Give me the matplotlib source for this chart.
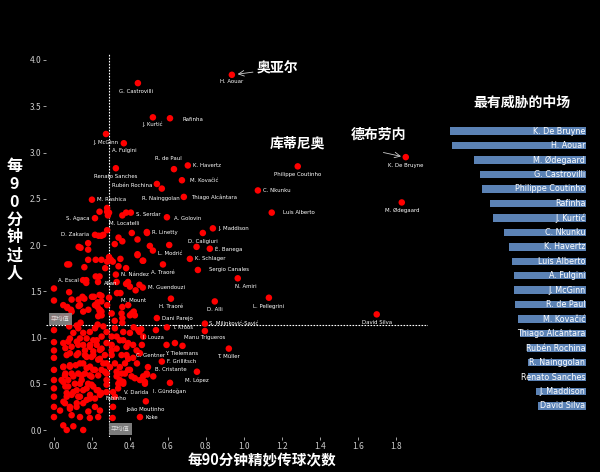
import matplotlib
matplotlib.use("Agg")
import matplotlib.pyplot as plt
from matplotlib import transforms

plt.rcParams['font.family'] = ['Noto Sans CJK SC', 'DejaVu Sans']

# labelled players: name, key passes / 90, dribbles / 90
names = ['G. Castrovilli', 'J. Kurtić', 'Rafinha', 'J. McGinn', 'A. Fulgini', 'R. de Paul',
         'K. Havertz', 'Renato Sanches', 'M. Kovačić', 'Rubén Rochina', 'R. Nainggolan',
         'Thiago Alcântara', 'M. Rashica', 'S. Agaca', 'S. Serdar', 'A. Golovin',
         'M. Locatelli', 'D. Zakaria', 'R. Linetty', 'D. Caligiuri', 'J. Maddison',
         'É. Banega', 'L. Modrić', 'K. Schlager', 'A. Traoré', 'Sergio Canales',
         'N. Nández', 'A. Escal', 'Allan', 'M. Guendouzi', 'N. Amiri', 'M. Mount',
         'H. Traoré', 'D. Alli', 'L. Pellegrini', 'David Silva', 'Dani Parejo',
         'S. Milinković-Savić', 'T. Kroos', 'I. Louza', 'Manu Trigueros', 'C. Gentner',
         'Y. Tielemans', 'F. Grillitsch', 'B. Cristante', 'M. López', 'T. Müller',
         'I. Gündoğan', 'V. Darida', 'Fabinho', 'João Moutinho', 'Koke', 'H. Aouar',
         'Philippe Coutinho', 'C. Nkunku', 'Luis Alberto', 'K. De Bruyne', 'M. Ødegaard']
key_passes = [0.442, 0.521, 0.611, 0.274, 0.368, 0.632, 0.705, 0.326, 0.674, 0.542, 0.568,
              0.684, 0.20, 0.216, 0.405, 0.595, 0.284, 0.216, 0.489, 0.784, 0.837,
              0.821, 0.521, 0.716, 0.574, 0.758, 0.326, 0.153, 0.232, 0.468, 0.968, 0.332,
              0.616, 0.847, 1.132, 1.70, 0.542, 0.795, 0.595, 0.463, 0.795, 0.437,
              0.593, 0.568, 0.495, 0.753, 0.921, 0.611, 0.311, 0.311, 0.484, 0.453, 0.937,
              1.284, 1.074, 1.147, 1.853, 1.832]
dribbles = [3.75, 3.38, 3.37, 3.20, 3.10, 2.82, 2.86, 2.83, 2.70, 2.66, 2.61,
            2.52, 2.49, 2.29, 2.35, 2.30, 2.32, 2.11, 2.14, 2.13, 2.18,
            1.96, 1.94, 1.85, 1.79, 1.73, 1.68, 1.62, 1.60, 1.54, 1.64, 1.48,
            1.42, 1.39, 1.43, 1.25, 1.21, 1.15, 1.11, 0.92, 1.07, 0.72,
            0.92, 0.74, 0.68, 0.63, 0.88, 0.51, 0.41, 0.25, 0.31, 0.14, 3.84,
            2.85, 2.59, 2.35, 2.95, 2.46]

# the other midfielders (unlabelled)
other_kp = [0.0, 0.0, 0.0, 0.0, 0.0, 0.0, 0.0, 0.0, 0.0, 0.0, 0.0, 0.0, 0.0, 0.044,
            0.24, 0.28, 0.29, 0.28, 0.36, 0.38, 0.28, 0.235, 0.25, 0.26, 0.18, 0.14, 0.18,
            0.32, 0.34, 0.36, 0.41, 0.44, 0.49, 0.35, 0.29, 0.30, 0.28, 0.31, 0.25, 0.22,
            0.18, 0.16, 0.08, 0.27, 0.34, 0.38, 0.44, 0.22, 0.24, 0.17, 0.17, 0.33, 0.38,
            0.40, 0.43, 0.45, 0.39, 0.08, 0.15, 0.21, 0.25, 0.25, 0.23, 0.29, 0.35, 0.13,
            0.16, 0.20, 0.24, 0.36, 0.07, 0.09, 0.07, 0.13, 0.23, 0.24, 0.25, 0.28, 0.40,
            0.41, 0.42, 0.14, 0.12, 0.08, 0.23, 0.26, 0.36, 0.36, 0.42, 0.32, 0.505, 0.607,
            0.467, 0.44, 0.47, 0.751, 0.13, 0.07,
            0.049, 0.093, 0.137, 0.216, 0.242, 0.251, 0.233, 0.093, 0.075, 0.154, 0.181,
            0.426, 0.356, 0.391, 0.304,
            0.102, 0.128, 0.154, 0.189, 0.216, 0.251, 0.277, 0.321, 0.365, 0.40, 0.444,
            0.084, 0.137, 0.172, 0.207, 0.304, 0.347,
            0.049, 0.093, 0.128, 0.163, 0.189, 0.225, 0.251, 0.277, 0.304, 0.33, 0.382,
            0.417, 0.453, 0.067, 0.119, 0.172, 0.207, 0.242, 0.356, 0.391,
            0.049, 0.084, 0.137, 0.172, 0.207, 0.189, 0.233, 0.268, 0.295, 0.33, 0.374,
            0.40, 0.426, 0.058, 0.102, 0.146, 0.277, 0.347,
            0.049, 0.075, 0.102, 0.137, 0.172, 0.198, 0.225, 0.251, 0.277, 0.338, 0.365,
            0.067, 0.128, 0.189, 0.321,
            0.058, 0.084, 0.119, 0.154, 0.181, 0.216, 0.242, 0.093, 0.137, 0.189, 0.233,
            0.032, 0.049, 0.102, 0.154, 0.067,
            0.339, 0.365, 0.321, 0.347, 0.374, 0.391, 0.356, 0.33, 0.409, 0.382, 0.417,
            0.453, 0.479, 0.488, 0.523, 0.309, 0.304, 0.33, 0.365, 0.391, 0.435, 0.304,
            0.277, 0.277, 0.277, 0.45, 0.47, 0.637, 0.677, 0.491, 0.47, 0.479, 0.46, 0.537,
            0.05, 0.084, 0.12, 0.137, 0.172, 0.19, 0.154, 0.12, 0.093, 0.067, 0.06, 0.04,
            0.075, 0.11, 0.146, 0.18, 0.207, 0.233, 0.242, 0.216, 0.198, 0.163, 0.128,
            0.093, 0.06, 0.05, 0.084, 0.115, 0.154, 0.19, 0.216, 0.25, 0.26, 0.233, 0.198,
            0.163, 0.128, 0.084, 0.06, 0.075, 0.12, 0.154, 0.19, 0.225, 0.242, 0.207, 0.268]
other_dr = [1.53, 1.40, 1.21, 1.08, 0.95, 0.86, 0.78, 0.65, 0.54, 0.45, 0.36, 0.25, 0.14, 1.22,
            2.36, 2.40, 2.35, 2.36, 2.32, 2.35, 2.16, 2.10, 2.10, 2.11, 2.02, 1.97, 1.95,
            2.01, 2.08, 2.04, 2.13, 2.06, 2.13, 1.85, 1.87, 1.84, 1.82, 1.82, 1.84, 1.84,
            1.84, 1.76, 1.79, 1.75, 1.77, 1.75, 1.89, 1.66, 1.66, 1.59, 1.62, 1.60, 1.58,
            1.55, 1.51, 1.57, 1.60, 1.49, 1.44, 1.44, 1.45, 1.39, 1.38, 1.43, 1.48, 1.41,
            1.42, 1.44, 1.46, 1.33, 1.32, 1.30, 1.33, 1.34, 1.33, 1.29, 1.28, 1.35, 1.24,
            1.26, 1.28, 1.16, 1.13, 1.12, 1.14, 1.12, 1.21, 1.16, 1.11, 1.18, 1.99, 2.00,
            1.83, 1.90, 1.83, 1.98, 1.98, 1.79,
            1.35, 1.41, 1.35, 1.35, 1.30, 1.24, 1.23, 1.28, 1.23, 1.28, 1.30,
            1.24, 1.26, 1.35, 1.26,
            1.05, 1.10, 1.05, 1.06, 1.10, 1.01, 1.06, 1.10, 1.06, 1.05, 1.08,
            0.99, 0.99, 0.99, 0.97, 1.01, 0.97,
            0.94, 0.90, 0.92, 0.86, 0.90, 0.92, 0.88, 0.94, 0.86, 0.88, 0.90,
            0.92, 0.83, 0.81, 0.81, 0.79, 0.81, 0.77, 0.81, 0.77,
            0.68, 0.70, 0.72, 0.67, 0.65, 0.59, 0.59, 0.63, 0.68, 0.63, 0.61,
            0.65, 0.56, 0.59, 0.58, 0.59, 0.54, 0.54,
            0.52, 0.47, 0.41, 0.50, 0.45, 0.49, 0.43, 0.40, 0.49, 0.45, 0.52,
            0.36, 0.36, 0.34, 0.36,
            0.29, 0.23, 0.25, 0.29, 0.20, 0.25, 0.21, 0.16, 0.14, 0.13, 0.14,
            0.21, 0.05, 0.04, 0.00, 0.00,
            0.50, 0.50, 0.72, 0.68, 0.72, 0.65, 0.61, 0.58, 0.58, 0.81, 0.78,
            0.54, 0.50, 0.61, 0.58, 0.13, 0.92, 1.01, 0.97, 0.94, 0.86, 0.81,
            0.72, 0.61, 0.41, 1.06, 1.01, 0.94, 0.91, 0.60, 0.58, 0.52, 1.09, 1.08,
            0.306, 0.25, 0.29, 0.36, 0.325, 0.38, 0.43, 0.43, 0.38, 0.40, 0.47, 0.54,
            0.54, 0.50, 0.54, 0.50, 0.47, 0.43, 0.38, 0.34, 0.577, 0.61, 0.61,
            0.61, 0.61, 0.685, 0.685, 0.70, 0.72, 0.685, 0.65, 0.65, 0.72, 0.76, 0.79,
            0.81, 0.83, 0.83, 0.885, 0.955, 0.955, 0.92, 0.92, 0.97, 0.865, 0.85, 0.81]

avg_kp = 0.29
avg_dr = 1.13

# top 20 most threatening midfielders (bar panel)
top_names = ['K. De Bruyne', 'H. Aouar', 'M. Ødegaard', 'G. Castrovilli', 'Philippe Coutinho',
             'Rafinha', 'J. Kurtić', 'C. Nkunku', 'K. Havertz', 'Luis Alberto', 'A. Fulgini',
             'J. McGinn', 'R. de Paul', 'M. Kovačić', 'Thiago Alcântara', 'Rubén Rochina',
             'R. Nainggolan', 'Renato Sanches', 'J. Maddison', 'David Silva']
top_score = [4.82, 4.78, 4.29, 4.16, 4.12, 3.94, 3.87, 3.63, 3.52, 3.45, 3.41,
             3.41, 3.39, 3.32, 3.28, 3.12, 3.10, 3.10, 2.92, 2.88]

# label placement (offset points, alignment)
R, L, B = 'left', 'right', 'center'
label_pos = {
    'G. Castrovilli': (-1, -6, B), 'J. Kurtić': (0, -5, B), 'Rafinha': (9, -1, R),
    'J. McGinn': (0, -6, B), 'A. Fulgini': (0, -5, B), 'R. de Paul': (-4, 8, B),
    'K. Havertz': (4, 0, R), 'Renato Sanches': (0, -6, B), 'M. Kovačić': (6, 0, R),
    'Rubén Rochina': (-3, -1, L), 'R. Nainggolan': (-1, -7, B), 'Thiago Alcântara': (5, 0, R),
    'M. Rashica': (4, 0, R), 'S. Agaca': (-4, 0, L), 'S. Serdar': (4, -1, R),
    'A. Golovin': (5, -1, R), 'M. Locatelli': (1, -6, R), 'D. Zakaria': (-4, 0, L),
    'R. Linetty': (4, 0, R), 'D. Caligiuri': (0, -6, B), 'J. Maddison': (4, 0, R),
    'É. Banega': (4, 0, R), 'L. Modrić': (4, -2, R), 'K. Schlager': (4, 0, R),
    'A. Traoré': (0, -6, B), 'Sergio Canales': (8, 0, R), 'N. Nández': (4, 0, R),
    'A. Escal': (-3, 0, L), 'Allan': (4, -1, R), 'M. Guendouzi': (4, 0, R),
    'N. Amiri': (6, -6, B), 'M. Mount': (3, -5, R), 'H. Traoré': (0, -6, B),
    'D. Alli': (0, -6, B), 'L. Pellegrini': (0, -6, B), 'David Silva': (0, -6, B),
    'Dani Parejo': (4, 0, R), 'S. Milinković-Savić': (3, 0, R), 'T. Kroos': (4, 0, R),
    'I. Louza': (8, 5, B), 'Manu Trigueros': (0, -5, B), 'C. Gentner': (10, 6, B),
    'Y. Tielemans': (11, -6, B), 'F. Grillitsch': (4, 0, R), 'B. Cristante': (5, -2, R),
    'M. López': (0, -6, B), 'T. Müller': (0, -6, B), 'I. Gündoğan': (0, -6, B),
    'V. Darida': (8, 0, R), 'Fabinho': (2, 6, B), 'João Moutinho': (0, -6, B),
    'Koke': (4, 0, R), 'H. Aouar': (0, -5, B), 'Philippe Coutinho': (0, -6, B),
    'C. Nkunku': (4, 0, R), 'Luis Alberto': (8, 0, R), 'K. De Bruyne': (0, -6, B),
    'M. Ødegaard': (0, -6, B),
}

fig = plt.figure(figsize=(6, 4.72), dpi=100, facecolor='black')
ax = fig.add_axes([0.0773, 0.0733, 0.636, 0.8133], facecolor='black')

ax.scatter(other_kp, other_dr, s=22, c='#ff0000', edgecolors='none', zorder=3)
ax.scatter(key_passes, dribbles, s=22, c='#ff0000', edgecolors='none', zorder=3)

for n, x, y in zip(names, key_passes, dribbles):
    dx, dy, ha = label_pos[n]
    ax.annotate(n, (x, y), xytext=(dx, dy), textcoords='offset points', ha=ha,
                va='center', color='white', fontsize=3.9, family=['DejaVu Sans'], zorder=4)

ax.axvline(avg_kp, color='white', lw=0.8, ls=(0, (1.5, 1.2)), zorder=2)
ax.axhline(avg_dr, color='white', lw=0.8, ls=(0, (1.5, 1.2)), zorder=2)

box = dict(boxstyle='square,pad=0.35', facecolor='#8a8a8a', edgecolor='none', alpha=0.9)
ax.text(0.012, avg_dr + 0.03, '平均值', transform=transforms.blended_transform_factory(ax.transAxes, ax.transData),
        fontsize=4.5, color='#dddddd', va='bottom', ha='left', bbox=box, zorder=5)
ax.text(avg_kp + 0.01, 0.012, '平均值', transform=transforms.blended_transform_factory(ax.transData, ax.transAxes),
        fontsize=4.5, color='#dddddd', va='bottom', ha='left', bbox=box, zorder=5)

# big callouts
ax.annotate('奥亚尔', xy=(0.96, 3.845), xytext=(1.07, 3.905), color='white', fontsize=10,
            fontweight='bold', ha='left', va='center',
            arrowprops=dict(arrowstyle='->', color='#cccccc', lw=0.6, shrinkA=1, shrinkB=1))
ax.text(1.28, 3.10, '库蒂尼奥', color='white', fontsize=10, fontweight='bold', ha='center', va='center')
ax.text(1.71, 3.19, '德布劳内', color='white', fontsize=10, fontweight='bold', ha='center', va='center')
ax.annotate('', xy=(1.835, 2.955), xytext=(1.735, 3.0),
            arrowprops=dict(arrowstyle='->', color='#cccccc', lw=0.6, shrinkA=0, shrinkB=1))

ax.set_xlim(-0.04, 1.97)
ax.set_ylim(-0.08, 4.07)
ax.set_xticks([0.0, 0.2, 0.4, 0.6, 0.8, 1.0, 1.2, 1.4, 1.6, 1.8])
ax.set_yticks([0.0, 0.5, 1.0, 1.5, 2.0, 2.5, 3.0, 3.5, 4.0])
ax.set_xticklabels(['0.0', '0.2', '0.4', '0.6', '0.8', '1.0', '1.2', '1.4', '1.6', '1.8'])
ax.set_yticklabels(['0.0', '0.5', '1.0', '1.5', '2.0', '2.5', '3.0', '3.5', '4.0'])
ax.tick_params(colors='#bbbbbb', labelcolor='#cccccc', labelsize=6, length=2, width=0.6, pad=1.5)
for s in ax.spines.values():
    s.set_visible(False)

fig.text(0.437, 0.025, '每90分钟精妙传球次数', color='white', fontsize=10.5, fontweight='bold',
         ha='center', va='center')
fig.text(0.024, 0.535, '\n'.join('每90分钟过人'), color='white', fontsize=11.5, fontweight='bold',
         ha='center', va='center', linespacing=1.15)

# bar panel
bx = fig.add_axes([0.7467, 0.1246, 0.23, 0.6131], facecolor='black')
pos = list(range(len(top_names)))
bx.barh(pos, top_score, height=0.52, color='#5b82b5')
bx.set_xlim(4.87, 1.82)
bx.set_ylim(len(top_names) - 0.5, -0.5)
lab_tr = transforms.blended_transform_factory(bx.transAxes, bx.transData)
for p, n in zip(pos, top_names):
    bx.text(0.995, p, n, transform=lab_tr, ha='right', va='center', color='white',
            fontsize=5.8, family=['Liberation Sans Narrow', 'DejaVu Sans'])
bx.axis('off')
fig.text(0.87, 0.782, '最有威胁的中场', color='white', fontsize=10, fontweight='bold',
         ha='center', va='center')

fig.savefig('out.png', dpi=100, facecolor='black')
